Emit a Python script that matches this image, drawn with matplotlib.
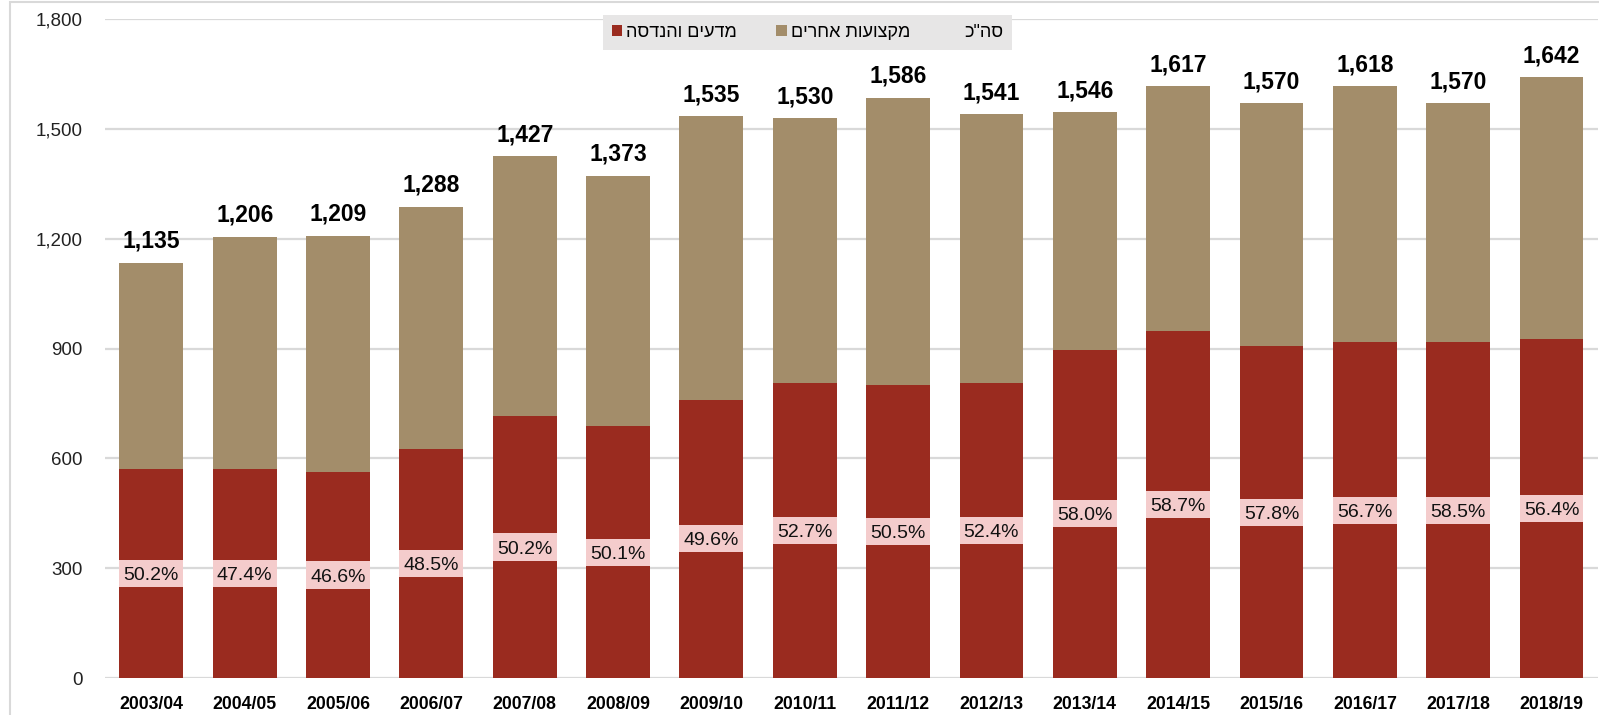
import numpy as np
import matplotlib
matplotlib.use("Agg")
import matplotlib.pyplot as plt
from matplotlib.patches import Patch, Rectangle

# data
years = ['2003/04', '2004/05', '2005/06', '2006/07', '2007/08', '2008/09', '2009/10', '2010/11',
         '2011/12', '2012/13', '2013/14', '2014/15', '2015/16', '2016/17', '2017/18', '2018/19']
totals = [1135, 1206, 1209, 1288, 1427, 1373, 1535, 1530, 1586, 1541, 1546, 1617, 1570, 1618, 1570, 1642]
science = [570, 572, 563, 625, 716, 688, 761, 806, 801, 807, 897, 949, 907, 917, 918, 926]
science_pct = [50.2, 47.4, 46.6, 48.5, 50.2, 50.1, 49.6, 52.7, 50.5, 52.4, 58.0, 58.7, 57.8, 56.7, 58.5, 56.4]
other = [t - s for t, s in zip(totals, science)]

lbl_science = 'מדעים והנדסה'
lbl_other = 'מקצועות אחרים'
lbl_total = 'סה"כ'

RED = '#9A2B1F'
TAN = '#A38D6A'
PINK = '#F4CCCC'
GRID = '#D9D9D9'

plt.rcParams['font.family'] = ['Liberation Sans', 'DejaVu Sans']


def rtl(s):
    # matplotlib has no bidi support, so lay Hebrew out visually
    return s[::-1]


fig = plt.figure(figsize=(15.99, 7.15), dpi=100)
ax = fig.add_axes([0.0655, 0.0517, 0.934, 0.9213])

x = np.arange(len(years))
w = 0.685

ax.bar(x, science, width=w, color=RED, zorder=2)
ax.bar(x, other, width=w, bottom=science, color=TAN, zorder=2)

# percentage labels in pink boxes, centred on the red part
box_h = 74
ax.bar(x, [box_h] * len(x), width=w, bottom=[s / 2 - box_h / 2 for s in science],
       color=PINK, zorder=3)
for i, (s, p) in enumerate(zip(science, science_pct)):
    ax.text(i, s / 2, f'{p:.1f}%', ha='center', va='center_baseline', fontsize=14,
            color='#111111', zorder=4)

# totals above bars
for i, t in enumerate(totals):
    ax.annotate(f'{t:,}', (i, t), xytext=(0, 7), textcoords='offset points',
                ha='center', va='bottom', fontsize=16.5, fontweight='bold', color='black')

ax.set_xlim(-0.5, len(years) - 0.5)
ax.set_ylim(0, 1800)
ax.set_yticks(range(0, 1801, 300))
ax.set_yticklabels([f'{v:,}' for v in range(0, 1801, 300)], fontsize=13.5, color='#222222')
ax.set_xticks(x)
ax.set_xticklabels(years, fontsize=12.7, fontweight='bold', color='black')
ax.tick_params(axis='both', length=0)
ax.tick_params(axis='y', pad=16)
ax.tick_params(axis='x', pad=13)

ax.yaxis.grid(True, color=GRID, linewidth=1.6, zorder=0)
ax.set_axisbelow(True)
for sp in ax.spines.values():
    sp.set_visible(False)

handles = [Patch(facecolor=RED, edgecolor='none'),
           Patch(facecolor=TAN, edgecolor='none'),
           Patch(facecolor='none', edgecolor='none')]
leg = fig.legend(handles, [rtl(lbl_science), rtl(lbl_other), rtl(lbl_total)],
                 loc='center', bbox_to_anchor=(0.505, 0.9545), ncol=3, frameon=True,
                 fontsize=13, handlelength=0.6, handleheight=0.6, handletextpad=0.2,
                 columnspacing=2.2, borderpad=0.5, fancybox=False)
leg.get_frame().set_facecolor('#E7E6E6')
leg.get_frame().set_edgecolor('none')
leg.get_frame().set_alpha(1)

# chart area border
fig.patches.append(Rectangle((0.006, -0.1), 1.2, 1.097, transform=fig.transFigure,
                             fill=False, edgecolor=GRID, linewidth=1.5))

fig.savefig('out.png', dpi=100)
